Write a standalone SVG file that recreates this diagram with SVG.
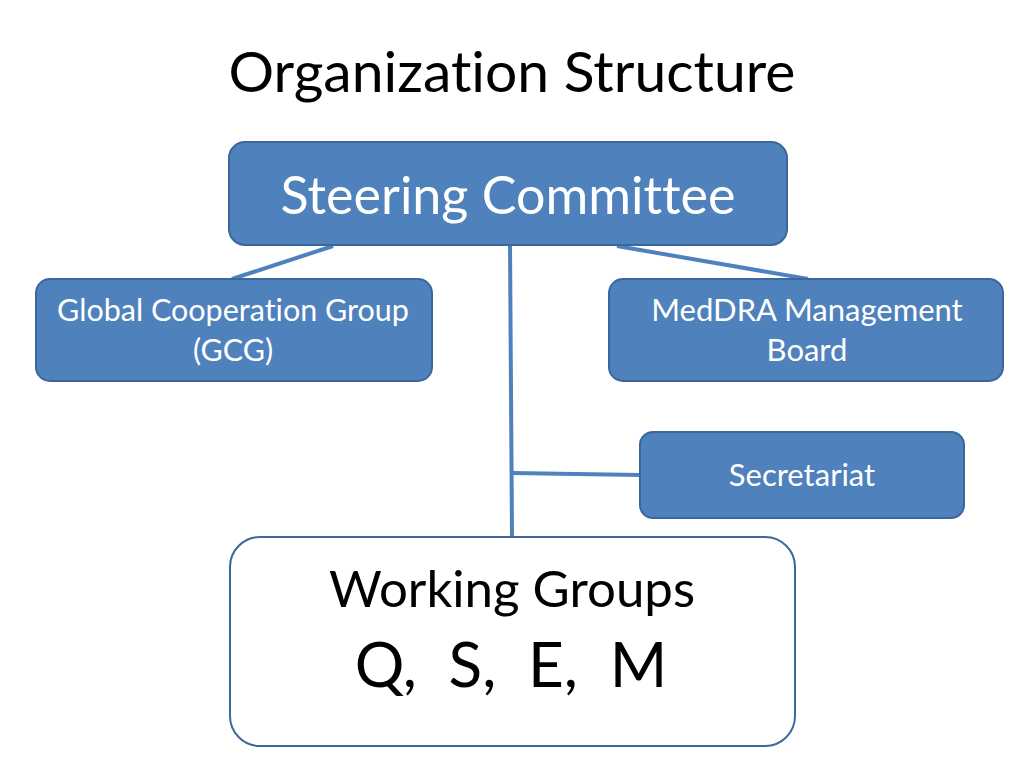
<svg xmlns="http://www.w3.org/2000/svg" width="1024" height="768" viewBox="0 0 1024 768">
<style>
.box{fill:#4F81BD;stroke:#3A679C;stroke-width:2}
.wbox{fill:#FFFFFF;stroke:#3A679C;stroke-width:2}
.t{font-family:Lato,"Open Sans","Liberation Sans",sans-serif;text-anchor:middle;font-variant-ligatures:none;font-feature-settings:"liga" 0}
.w{fill:#FFFFFF}
.k{fill:#000000}
.conn{stroke:#4F81BD;stroke-width:4;fill:none}
</style>
<rect width="1024" height="768" fill="#FFFFFF"/>
<text class="t k" x="512" y="92" font-size="57">Organization Structure</text>
<g id="connectors">
<line class="conn" x1="333" y1="246" x2="232" y2="279"/>
<line class="conn" x1="617" y1="246" x2="808" y2="279"/>
<line class="conn" x1="510" y1="245" x2="512" y2="537"/>
<line class="conn" x1="512" y1="473" x2="640" y2="475"/>
</g>
<g id="steering">
<rect class="box" x="229" y="142" width="558" height="103" rx="16"/>
<text class="t w" x="508" y="214" font-size="52">Steering Committee</text>
</g>
<g id="gcg">
<rect class="box" x="36" y="279" width="396" height="102" rx="14"/>
<text class="t w" x="233" y="321" font-size="30.5">Global Cooperation Group</text>
<text class="t w" x="233" y="361" font-size="30.5">(GCG)</text>
</g>
<g id="meddra">
<rect class="box" x="609" y="279" width="394" height="102" rx="14"/>
<text class="t w" x="807" y="321" font-size="31">MedDRA Management</text>
<text class="t w" x="807" y="361" font-size="31">Board</text>
</g>
<g id="secretariat">
<rect class="box" x="640" y="432" width="324" height="86" rx="13"/>
<text class="t w" x="802" y="486" font-size="31">Secretariat</text>
</g>
<g id="working">
<rect class="wbox" x="230" y="537" width="565" height="209" rx="30"/>
<text class="t k" x="512" y="607" font-size="51">Working Groups</text>
<text class="t k" x="511" y="687" font-size="62" xml:space="preserve">Q,  S,  E,  M</text>
</g>
</svg>
